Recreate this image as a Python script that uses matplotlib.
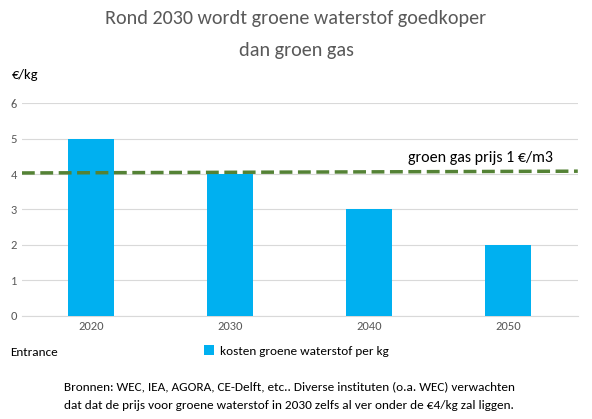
import matplotlib.pyplot as plt

years = ["2020", "2030", "2040", "2050"]
costs = [5, 4, 3, 2]
gas_price = [4.03, 4.08]  # dashed line, slightly rising left to right

plt.rcParams['font.family'] = ['Calibri', 'Carlito', 'Liberation Sans', 'DejaVu Sans']

fig = plt.figure(figsize=(5.92, 4.19), dpi=100)
ax = fig.add_axes([0.037, 0.246, 0.939, 0.508])

x = range(len(years))
bars = ax.bar(x, costs, width=0.33, color='#00b0f0', zorder=3,
              label='kosten groene waterstof per kg')
ax.plot([-0.5, 3.5], gas_price, '--', color='#548235', lw=2.5, zorder=4)
ax.text(2.28, 4.35, 'groen gas prijs 1 €/m3', fontsize=11.5, color='black')

ax.set_xlim(-0.5, 3.5)
ax.set_ylim(0, 6)
ax.set_xticks(list(x))
ax.set_xticklabels(years, fontsize=9, color='#595959')
ax.set_yticks(range(7))
ax.tick_params(axis='y', labelsize=9, colors='#595959', length=0)
ax.tick_params(axis='x', length=0)
ax.grid(axis='y', color='#d9d9d9', lw=0.8, zorder=0)
for s in ['top', 'right', 'left']:
    ax.spines[s].set_visible(False)
ax.spines['bottom'].set_color('#d9d9d9')

fig.text(0.5, 0.955, 'Rond 2030 wordt groene waterstof goedkoper', ha='center',
         va='center', fontsize=14.5, color='#595959')
fig.text(0.5, 0.88, 'dan groen gas', ha='center', va='center', fontsize=14.5, color='#595959')
fig.text(0.02, 0.82, '€/kg', fontsize=10.5, va='center')
fig.text(0.017, 0.158, 'Entrance', fontsize=9.5, va='center')
fig.legend(handles=[bars], loc='center', bbox_to_anchor=(0.5, 0.162), frameon=False,
           fontsize=9.5, handlelength=0.8, handleheight=0.8, handletextpad=0.4)
fig.text(0.108, 0.078, 'Bronnen: WEC, IEA, AGORA, CE-Delft, etc.. Diverse instituten (o.a. WEC) verwachten',
         fontsize=9.5, va='center')
fig.text(0.108, 0.033, 'dat dat de prijs voor groene waterstof in 2030 zelfs al ver onder de €4/kg zal liggen.',
         fontsize=9.5, va='center')

fig.savefig('out.png', dpi=100)
